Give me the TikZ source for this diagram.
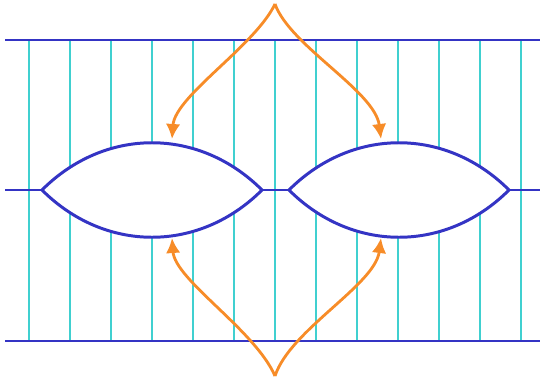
\documentclass[tikz,border=0pt]{standalone}
\usepackage{tikz}
\usetikzlibrary{arrows.meta,calc}
\definecolor{wireblue}{RGB}{52,52,196}
\definecolor{fibercyan}{RGB}{64,208,208}
\definecolor{hint}{RGB}{247,140,40}

\begin{document}
\begin{tikzpicture}[
  x=0.02cm, y=0.02cm,
  fiber/.style={fibercyan, line width=1.6pt},
  wire/.style={wireblue, line width=1.7pt},
  lens/.style={wireblue, line width=1.7pt, fill=white, line join=miter},
  arrow/.style={-{Latex[length=3mm,width=2.9mm]}, hint, line width=1.6pt}]
  \useasboundingbox (0,0) rectangle (540,376);
  % vertical lines
  \foreach \i in {0,...,12}
    \draw[fiber] (29+41*\i,35) -- (29+41*\i,336);
  % horizontal lines
  \draw[wire] (5,336) -- (540,336);
  \draw[wire] (5,35) -- (540,35);
  \draw[wire] (5,186) -- (540,186);
  % the two lenses
  \coordinate (lensL) at (152,186);
  \coordinate (lensR) at (399,186);
  \foreach \c in {lensL,lensR}
    \draw[lens] ($(\c)+(-110,0)$) .. controls ($(\c)+(-47,63)$) and ($(\c)+(47,63)$) .. ($(\c)+(110,0)$)
      .. controls ($(\c)+(47,-63)$) and ($(\c)+(-47,-63)$) .. cycle;
  \coordinate (topL) at (172,237);
  \coordinate (topR) at (381,237);
  \coordinate (botL) at (172,138);
  \coordinate (botR) at (381,138);
  % arrows from the labels
  \coordinate (up) at (275,372);
  \coordinate (down) at (275,0);
  \draw[arrow] (up) .. controls (255,330) and (175,280) .. (topL);
  \draw[arrow] (up) .. controls (290,330) and (375,285) .. (topR);
  \draw[arrow] (down) .. controls (255,46) and (175,96) .. (botL);
  \draw[arrow] (down) .. controls (290,46) and (375,91) .. (botR);
\end{tikzpicture}
\end{document}
